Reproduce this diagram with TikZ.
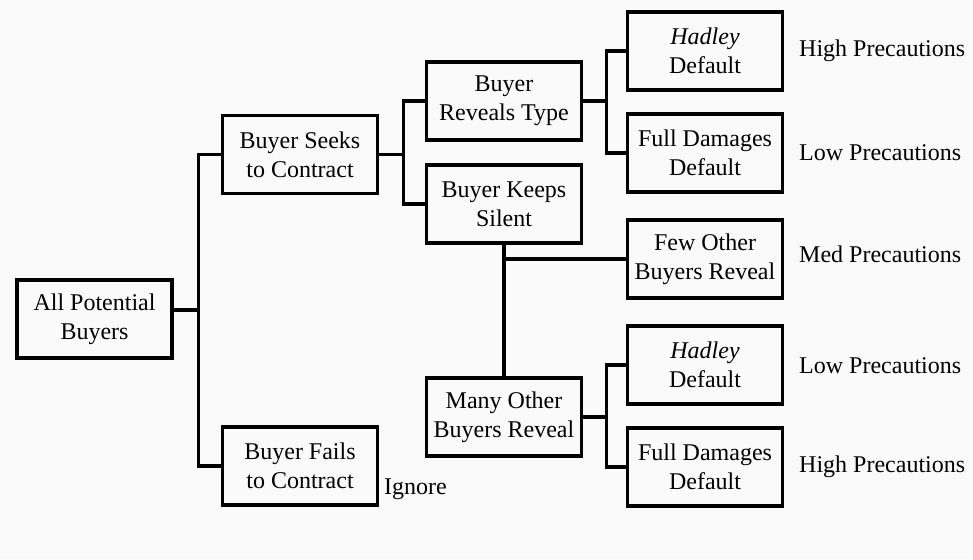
\documentclass[tikz,border=0pt]{standalone}
\usepackage{fontspec}
\setmainfont{Liberation Serif}
\usetikzlibrary{positioning}

\begin{document}
\begin{tikzpicture}
  [x=1pt, y=-1pt,
   choice/.style={rectangle, draw, line width=3.2pt, minimum width=155pt,
                  minimum height=78pt, inner sep=0pt, align=center,
                  font=\fontsize{24}{29}\selectfont},
   outcome/.style={anchor=west, inner sep=0pt,
                   font=\fontsize{24}{29}\selectfont},
   branch/.style={line width=3.2pt}]

  \useasboundingbox [fill=black!2] (0,0) rectangle (973,559);

  % Arbre des choix
  \node (allbuyers) at (94.5, 319) [choice] {All Potential\\Buyers};
  \node (seeks) at (300, 154.5) [choice] {Buyer Seeks\\to Contract};
  \node (fails) at (300, 466) [choice] {Buyer Fails\\to Contract};
  \node (reveals) at (504, 101) [choice] {Buyer\\Reveals Type};
  \node (silent) at (504, 204) [choice] {Buyer Keeps\\Silent};
  \node (many) at (504, 417) [choice] {Many Other\\Buyers Reveal};
  \node (hadleyA) at (705, 51) [choice] {\textit{Hadley}\\Default};
  \node (fullA) at (705, 153) [choice] {Full Damages\\Default};
  \node (few) at (705, 259) [choice] {Few Other\\Buyers Reveal};
  \node (hadleyB) at (705, 365) [choice] {\textit{Hadley}\\Default};
  \node (fullB) at (705, 467) [choice] {Full Damages\\Default};

  % Branches
  \draw [branch] ([yshift=9pt]allbuyers.east) -- ++(25,0) |- (seeks.west);
  \draw [branch] ([yshift=9pt]allbuyers.east) -- ++(25,0) |- (fails.west);
  \draw [branch] (seeks.east) -- ++(24,0) |- (reveals.west);
  \draw [branch] (seeks.east) -- ++(24,0) |- (silent.west);
  \draw [branch] (reveals.east) -- ++(23,0) |- (hadleyA.west);
  \draw [branch] (reveals.east) -- ++(23,0) |- (fullA.west);
  \draw [branch] (silent.south) -- (many.north);
  \draw [branch] (few.west) -- (few.west -| silent.south);
  \draw [branch] (many.east) -- ++(23,0) |- (hadleyB.west);
  \draw [branch] (many.east) -- ++(23,0) |- (fullB.west);

  % Precautions
  \node (highA) at (799, 51) [outcome] {High Precautions};
  \node (lowA) at (799, 153) [outcome] {Low Precautions};
  \node (med) at (799, 254) [outcome] {Med Precautions};
  \node (lowB) at (799, 366) [outcome] {Low Precautions};
  \node (highB) at (799, 467) [outcome] {High Precautions};
  \node (ignore) at (384, 489) [outcome] {Ignore};

\end{tikzpicture}
\end{document}
